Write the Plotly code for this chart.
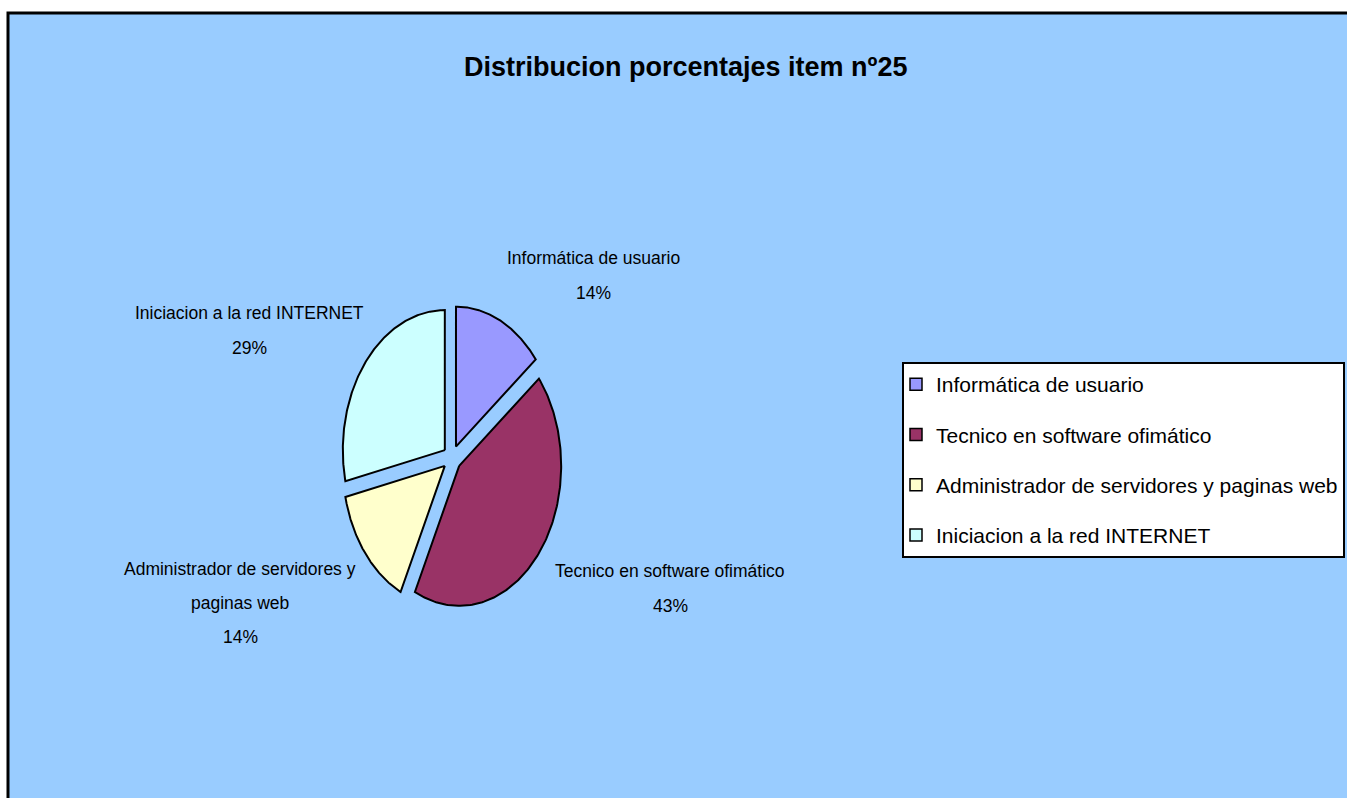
import textwrap

import numpy as np
import plotly.graph_objects as go

# Survey item 25: number of answers per course
categories = [
    "Informática de usuario",
    "Tecnico en software ofimático",
    "Administrador de servidores y paginas web",
    "Iniciacion a la red INTERNET",
]
counts = [1, 3, 1, 2]
colors = ["#9999FF", "#993366", "#FFFFCC", "#CCFFFF"]
title = "Distribucion porcentajes item nº25"

# Canvas and pie geometry (pixel units, y grows downwards)
W, H = 1347, 798
CX, CY = 452, 458          # pie centre
RX, RY = 102, 140          # horizontal / vertical radius
EXPLODE = 0.09             # slice offset as a fraction of the radius
label_pos = [(593, 258), (670, 571), (240, 569), (249, 313)]

FONT = "Liberation Sans, Arial, sans-serif"

total = sum(counts)
fig = go.Figure()

start = 0.0
for name, v, c in zip(categories, counts, colors):
    sweep = 360.0 * v / total
    t = np.radians(np.linspace(start, start + sweep, 160))
    mid = np.radians(start + sweep / 2)
    ox = CX + EXPLODE * RX * np.sin(mid)
    oy = CY - EXPLODE * RY * np.cos(mid)
    xs = np.concatenate([[ox], ox + RX * np.sin(t), [ox]])
    ys = np.concatenate([[oy], oy - RY * np.cos(t), [oy]])
    fig.add_trace(go.Scatter(
        x=xs, y=ys, mode="lines", fill="toself", fillcolor=c,
        line=dict(color="black", width=2), showlegend=False,
        hoverinfo="skip",
    ))
    start += sweep

# Legend entries: small squares with a black outline
for name, c in zip(categories, colors):
    fig.add_trace(go.Scatter(
        x=[None], y=[None], mode="markers", name=name, legendgroup=name,
        marker=dict(symbol="square", size=12, color=c,
                    line=dict(color="black", width=1.5)),
    ))

# Data labels: category name (wrapped) and rounded percentage
annotations = []
for name, v, (lx, ly) in zip(categories, counts, label_pos):
    lines = textwrap.wrap(name, width=30) + [f"{round(100 * v / total)}%"]
    gap = 35 if len(lines) == 2 else 34
    for i, line in enumerate(lines):
        annotations.append(dict(
            x=lx, y=ly + i * gap,
            xref="x", yref="y", text=line, showarrow=False,
            xanchor="center", yanchor="middle",
            font=dict(family=FONT, size=17.5, color="black"),
        ))

annotations.append(dict(
    x=685, y=67, xref="x", yref="y", text=f"<b>{title}</b>", showarrow=False,
    xanchor="center", yanchor="middle",
    font=dict(family=FONT, size=27, color="black"),
))

fig.update_layout(
    width=W, height=H,
    margin=dict(l=0, r=0, t=0, b=0, autoexpand=False),
    paper_bgcolor="white",
    plot_bgcolor="rgba(0,0,0,0)",
    xaxis=dict(range=[0, W], visible=False, fixedrange=True),
    yaxis=dict(range=[H, 0], visible=False, fixedrange=True),
    shapes=[dict(
        type="rect", xref="x", yref="y", x0=8, y0=13, x1=W + 20, y1=H + 20,
        fillcolor="#99CCFF", line=dict(color="black", width=3), layer="below",
    )],
    annotations=annotations,
    showlegend=True,
    legend=dict(
        x=902 / W, y=1 - 362 / H, xanchor="left", yanchor="top",
        bgcolor="white", bordercolor="black", borderwidth=2,
        font=dict(family=FONT, size=21, color="black"),
        tracegroupgap=20, itemwidth=30, indentation=-8,
    ),
)

fig.write_html("out.html")
